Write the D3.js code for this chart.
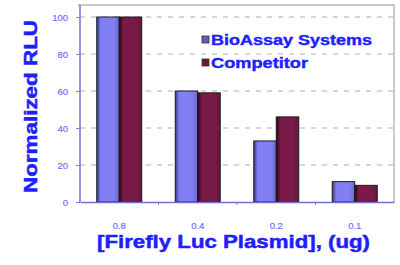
<!DOCTYPE html>
<html>
<head>
<meta charset="utf-8">
<script src="https://cdn.jsdelivr.net/npm/d3@7"></script>
<style>
  html, body { margin: 0; padding: 0; background: #fff; }
  svg { display: block; }
  text { font-family: "Liberation Sans", Arial, sans-serif; }
</style>
</head>
<body>
<svg id="chart" width="400" height="265"></svg>
<script>
/* Normalized RLU vs plasmid amount */

const categories = ["0.8", "0.4", "0.2", "0.1"];
const seriesNames = ["BioAssay Systems", "Competitor"];
const bioAssay = [100, 60, 33, 11];
const competitor = [100, 59, 46, 9];
const yTicks = [0, 20, 40, 60, 80, 100];

const COLORS = { "BioAssay Systems": "#8080f4", "Competitor": "#7a1a48" };
const DARK = { "BioAssay Systems": "#3a3a90", "Competitor": "#2a0515" };

const plot = { left: 80, right: 394, top: 5, bottom: 202 };

const svg = d3.select("#chart");

// gradients per le barre (effetto cilindro di Excel)
const defs = svg.append("defs");
seriesNames.forEach((s, i) => {
  const g = defs.append("linearGradient")
    .attr("id", "grad" + i)
    .attr("x1", "0%").attr("x2", "100%").attr("y1", "0%").attr("y2", "0%");
  g.append("stop").attr("offset", "0%").attr("stop-color", DARK[s]);
  g.append("stop").attr("offset", "18%").attr("stop-color", COLORS[s]);
  g.append("stop").attr("offset", "75%").attr("stop-color", COLORS[s]);
  g.append("stop").attr("offset", "100%").attr("stop-color", d3.color(COLORS[s]).darker(0.5));
});

const y = d3.scaleLinear().domain([0, 100]).range([plot.bottom, 17]);
const x0 = d3.scaleBand().domain(categories).range([plot.left, plot.right]).padding(0);
const x1 = d3.scaleBand().domain(seriesNames).range([0, x0.bandwidth()])
  .paddingInner(0).paddingOuter(0.745);

// frame (top + right grigi)
svg.append("path")
  .attr("d", `M${plot.left - 2},${plot.top}H${plot.right}V${plot.bottom}`)
  .attr("fill", "none").attr("stroke", "#b8b8b8").attr("stroke-width", 1.5);

// gridlines
svg.append("g")
  .selectAll("line")
  .data(yTicks.filter(d => d > 0))
  .join("line")
  .attr("x1", plot.left).attr("x2", plot.right)
  .attr("y1", d => y(d)).attr("y2", d => y(d))
  .attr("stroke", "#b0b0b0").attr("stroke-width", 1.2)
  .attr("stroke-dasharray", "5,6");

// bars
const rows = categories.map((c, i) => ({ cat: c, vals: [bioAssay[i], competitor[i]] }));
const gGroups = svg.append("g").selectAll("g")
  .data(rows)
  .join("g")
  .attr("transform", d => `translate(${x0(d.cat)},0)`);

gGroups.selectAll("rect")
  .data(d => d.vals.map((v, i) => ({ key: seriesNames[i], v, i })))
  .join("rect")
  .attr("x", d => x1(d.key))
  .attr("y", d => y(d.v))
  .attr("width", x1.bandwidth())
  .attr("height", d => y(0) - y(d.v))
  .attr("fill", d => `url(#grad${d.i})`)
  .attr("stroke", "#1a1a1a").attr("stroke-width", 1);

// y axis
const yAxis = d3.axisLeft(y).tickValues(yTicks).tickSize(4).tickPadding(8);
const gy = svg.append("g").attr("transform", `translate(${plot.left},0)`).call(yAxis);
gy.select(".domain").attr("stroke", "#7070d0").attr("stroke-width", 1.5)
  .attr("d", `M0,${plot.top}V${plot.bottom}`);
gy.selectAll(".tick line").attr("stroke", "#8080d8");
gy.selectAll(".tick text").attr("fill", "#7070ff").style("font-size", "9.5px")
  .attr("stroke", "#7070ff").attr("stroke-width", 0.2);

// x axis
const xAxis = d3.axisBottom(x0).tickSize(0).tickPadding(20);
const gx = svg.append("g").attr("transform", `translate(0,${plot.bottom})`).call(xAxis);
gx.select(".domain").attr("stroke", "#7070d0").attr("stroke-width", 1.5);
gx.selectAll(".tick text").attr("fill", "#7070ff").style("font-size", "9.5px")
  .attr("stroke", "#7070ff").attr("stroke-width", 0.2);
gx.selectAll(".sep")
  .data(categories.slice(1))
  .join("line")
  .attr("class", "sep")
  .attr("x1", d => x0(d)).attr("x2", d => x0(d))
  .attr("y1", 0).attr("y2", 3)
  .attr("stroke", "#8080d8");

// axis titles
svg.append("text")
  .attr("transform", "translate(37,193) rotate(-90)")
  .attr("fill", "#1e1eff").attr("stroke", "#1e1eff").attr("stroke-width", 0.5)
  .style("font-size", "19px").style("font-weight", "bold")
  .attr("textLength", 173).attr("lengthAdjust", "spacingAndGlyphs")
  .text("Normalized RLU");

svg.append("text")
  .attr("x", 97).attr("y", 248)
  .attr("fill", "#1e1eff").attr("stroke", "#1e1eff").attr("stroke-width", 0.5)
  .style("font-size", "19px").style("font-weight", "bold")
  .attr("textLength", 273).attr("lengthAdjust", "spacingAndGlyphs")
  .text("[Firefly Luc Plasmid], (ug)");

// legend
const legendW = [161, 97];
const lg = svg.append("g").selectAll("g")
  .data(seriesNames)
  .join("g")
  .attr("transform", (d, i) => `translate(202,${36 + i * 23})`);
lg.append("rect")
  .attr("width", 7).attr("height", 7)
  .attr("fill", (d, i) => i === 0 ? "#6060b0" : "#6a1a38")
  .attr("stroke", "#333").attr("stroke-width", 0.8);
lg.append("text")
  .attr("x", 9).attr("y", 8.5)
  .attr("fill", "#1e1eff").attr("stroke", "#1e1eff").attr("stroke-width", 0.4)
  .style("font-size", "14px").style("font-weight", "bold")
  .attr("textLength", (d, i) => legendW[i]).attr("lengthAdjust", "spacingAndGlyphs")
  .text(d => d);
</script>
</body>
</html>
